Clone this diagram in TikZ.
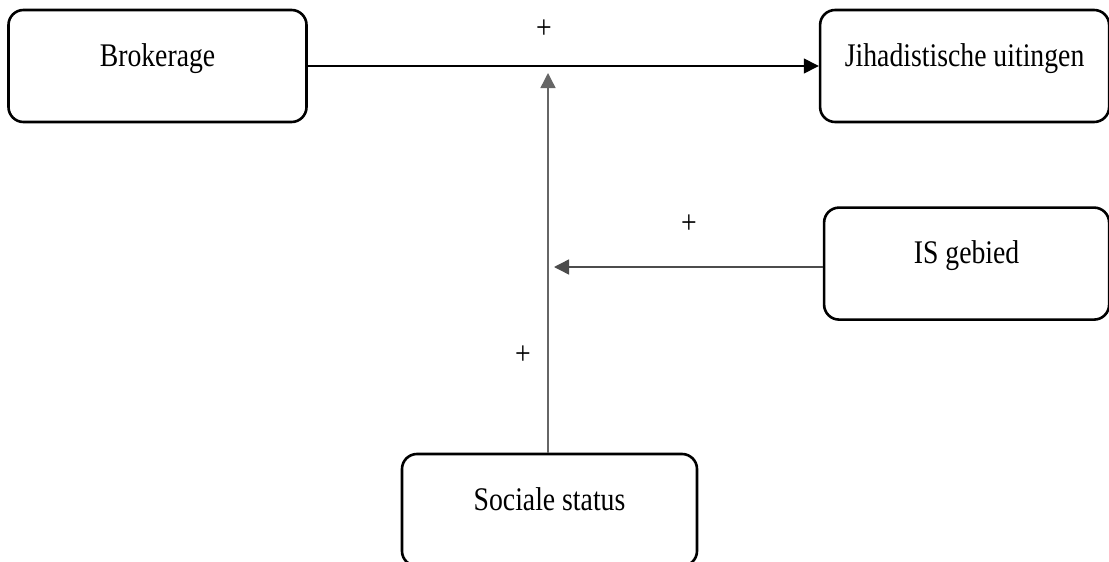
\documentclass[tikz,border=0pt]{standalone}
\usepackage{fontspec}
\setmainfont{Liberation Serif}[FakeStretch=0.84]
\usetikzlibrary{arrows.meta, positioning}

\tikzset{
  factor/.style={draw, rectangle, rounded corners=15pt, line width=2.6pt, inner sep=0pt, text height=56pt, text depth=56pt, minimum width=296pt},
  link/.style={->, line width=1.4pt},
}

\begin{document}
\begin{tikzpicture}[x=1pt, y=-1pt, >={Triangle[length=15pt, width=15pt]}, font=\fontsize{33pt}{36pt}\selectfont]

\useasboundingbox (0,0) rectangle (1109,562);

\node[factor, minimum width=298pt] (Brok) at (157.5,66) {Brokerage};
\node[factor, minimum width=289pt, right=511pt of Brok] (Jihad) {Jihadistische uitingen};
\node[factor, minimum width=285pt, below=83pt of Jihad.south east, anchor=north east] (IS) {IS gebied};
\node[factor, minimum width=295pt] (Soc) at (549.5,510) {Sociale status};

\coordinate (vtop) at (548,73);
\coordinate (hend) at (554,267);

\node (plusA) at (544,29) {+};
\node (plusB) at (689,224) {+};
\node (plusC) at (523,355) {+};

\draw[link] (Brok.east) -- (Jihad.west);
\draw[link, black!60] (Soc.north -| vtop) -- (vtop);
\draw[link, black!70] (IS.west |- hend) -- (hend);

\end{tikzpicture}
\end{document}
